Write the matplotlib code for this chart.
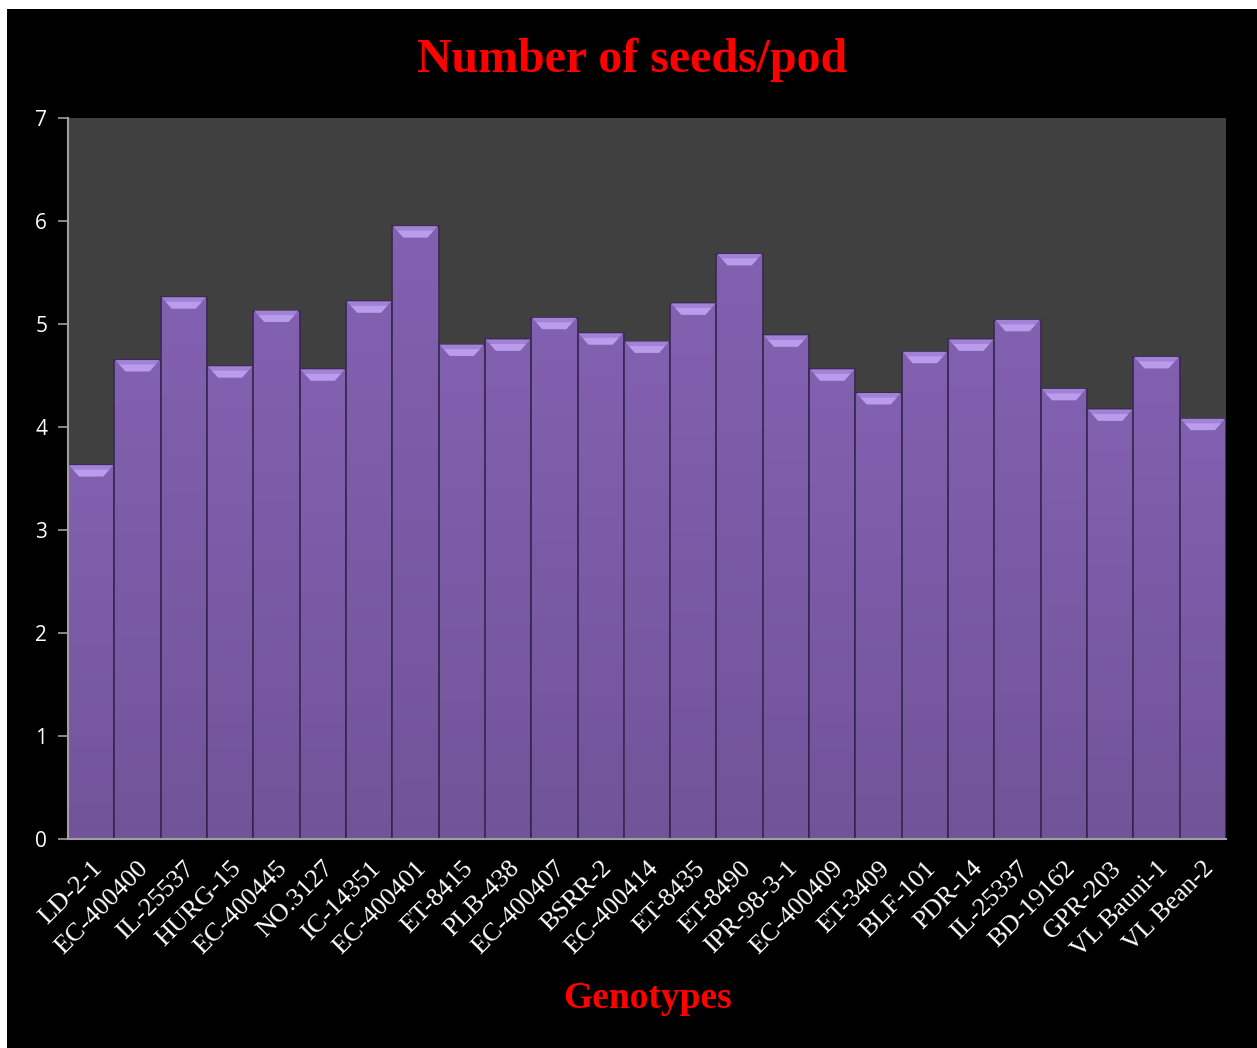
import matplotlib.pyplot as plt
from matplotlib.patches import Rectangle, Polygon
import numpy as np

genotypes = ['LD-2-1', 'EC-400400', 'IL-25537', 'HURG-15', 'EC-400445', 'NO.3127',
             'IC-14351', 'EC-400401', 'ET-8415', 'PLB-438', 'EC-400407', 'BSRR-2',
             'EC-400414', 'ET-8435', 'ET-8490', 'IPR-98-3-1', 'EC-400409', 'ET-3409',
             'BLF-101', 'PDR-14', 'IL-25337', 'BD-19162', 'GPR-203', 'VL Bauni-1',
             'VL Bean-2']
seeds_per_pod = [3.63, 4.65, 5.26, 4.59, 5.13, 4.56, 5.22, 5.95, 4.80, 4.85,
                 5.06, 4.91, 4.83, 5.20, 5.68, 4.89, 4.56, 4.33, 4.73, 4.85,
                 5.04, 4.37, 4.17, 4.68, 4.08]
y_ticks = [0, 1, 2, 3, 4, 5, 6, 7]

fig = plt.figure(figsize=(12.57, 10.48), dpi=100)
fig.patch.set_facecolor('white')
# black panel (white strip at top and left like the original)
fig.patches.append(Rectangle((7 / 1257, 0), 1 - 7 / 1257, 1 - 9 / 1048,
                             transform=fig.transFigure, facecolor='black',
                             edgecolor='none', zorder=-10))

ax = fig.add_axes([68 / 1257, 1 - 839 / 1048, (1226 - 68) / 1257, (839 - 118) / 1048])
ax.set_facecolor('#404040')

x = np.arange(len(genotypes))
ax.bar(x, seeds_per_pod, width=1.0, color='#8260B0', edgecolor='#3A2A55',
       linewidth=1.3, zorder=2)

# shade: a bit darker at the bottom of every bar
shade = np.zeros((100, 1, 4))
shade[:, 0, 3] = np.linspace(0.13, 0.0, 100)
for xi, h in zip(x, seeds_per_pod):
    ax.imshow(shade, extent=(xi - 0.48, xi + 0.48, 0, h), aspect='auto',
              origin='lower', zorder=2.5, interpolation='bilinear')
    # bevel on the bar top
    d = 0.11
    ax.add_patch(Polygon([(xi - 0.48, h), (xi + 0.48, h), (xi + 0.26, h - d),
                          (xi - 0.26, h - d)], closed=True,
                         facecolor='#A282D6', edgecolor='none', zorder=3))
    ax.add_patch(Polygon([(xi - 0.39, h - d * 0.4), (xi + 0.39, h - d * 0.4),
                          (xi + 0.26, h - d), (xi - 0.26, h - d)], closed=True,
                         facecolor='#BA9CEC', edgecolor='none', zorder=3.1))

ax.set_xlim(-0.5, len(genotypes) - 0.5)
ax.set_ylim(0, 7)
ax.set_yticks(y_ticks)
ax.set_yticklabels([str(t) for t in y_ticks], color='white', fontsize=15,
                   fontfamily='Open Sans')
ax.tick_params(axis='y', colors='#A0A0A0', length=7, width=1.2, pad=8)
for lbl in ax.get_yticklabels():
    lbl.set_color('white')
ax.set_xticks(x)
ax.set_xticklabels(genotypes, rotation=45, ha='right', rotation_mode='anchor',
                   color='white', fontsize=19, fontfamily='Liberation Serif')
ax.tick_params(axis='x', length=0, pad=13)

for side in ['top', 'right']:
    ax.spines[side].set_visible(False)
for side in ['left', 'bottom']:
    ax.spines[side].set_color('#A0A0A0')
    ax.spines[side].set_linewidth(1.5)
    ax.spines[side].set_zorder(4)

fig.text(0.503, 1 - 60 / 1048, 'Number of seeds/pod', color='red', fontsize=34.5,
         fontweight='bold', fontfamily='Liberation Serif', ha='center', va='center')
fig.text(0.515, 1 - 998 / 1048, 'Genotypes', color='red', fontsize=27,
         fontweight='bold', fontfamily='Liberation Serif', ha='center', va='center')

fig.savefig('out.png', dpi=100, facecolor=fig.get_facecolor())
